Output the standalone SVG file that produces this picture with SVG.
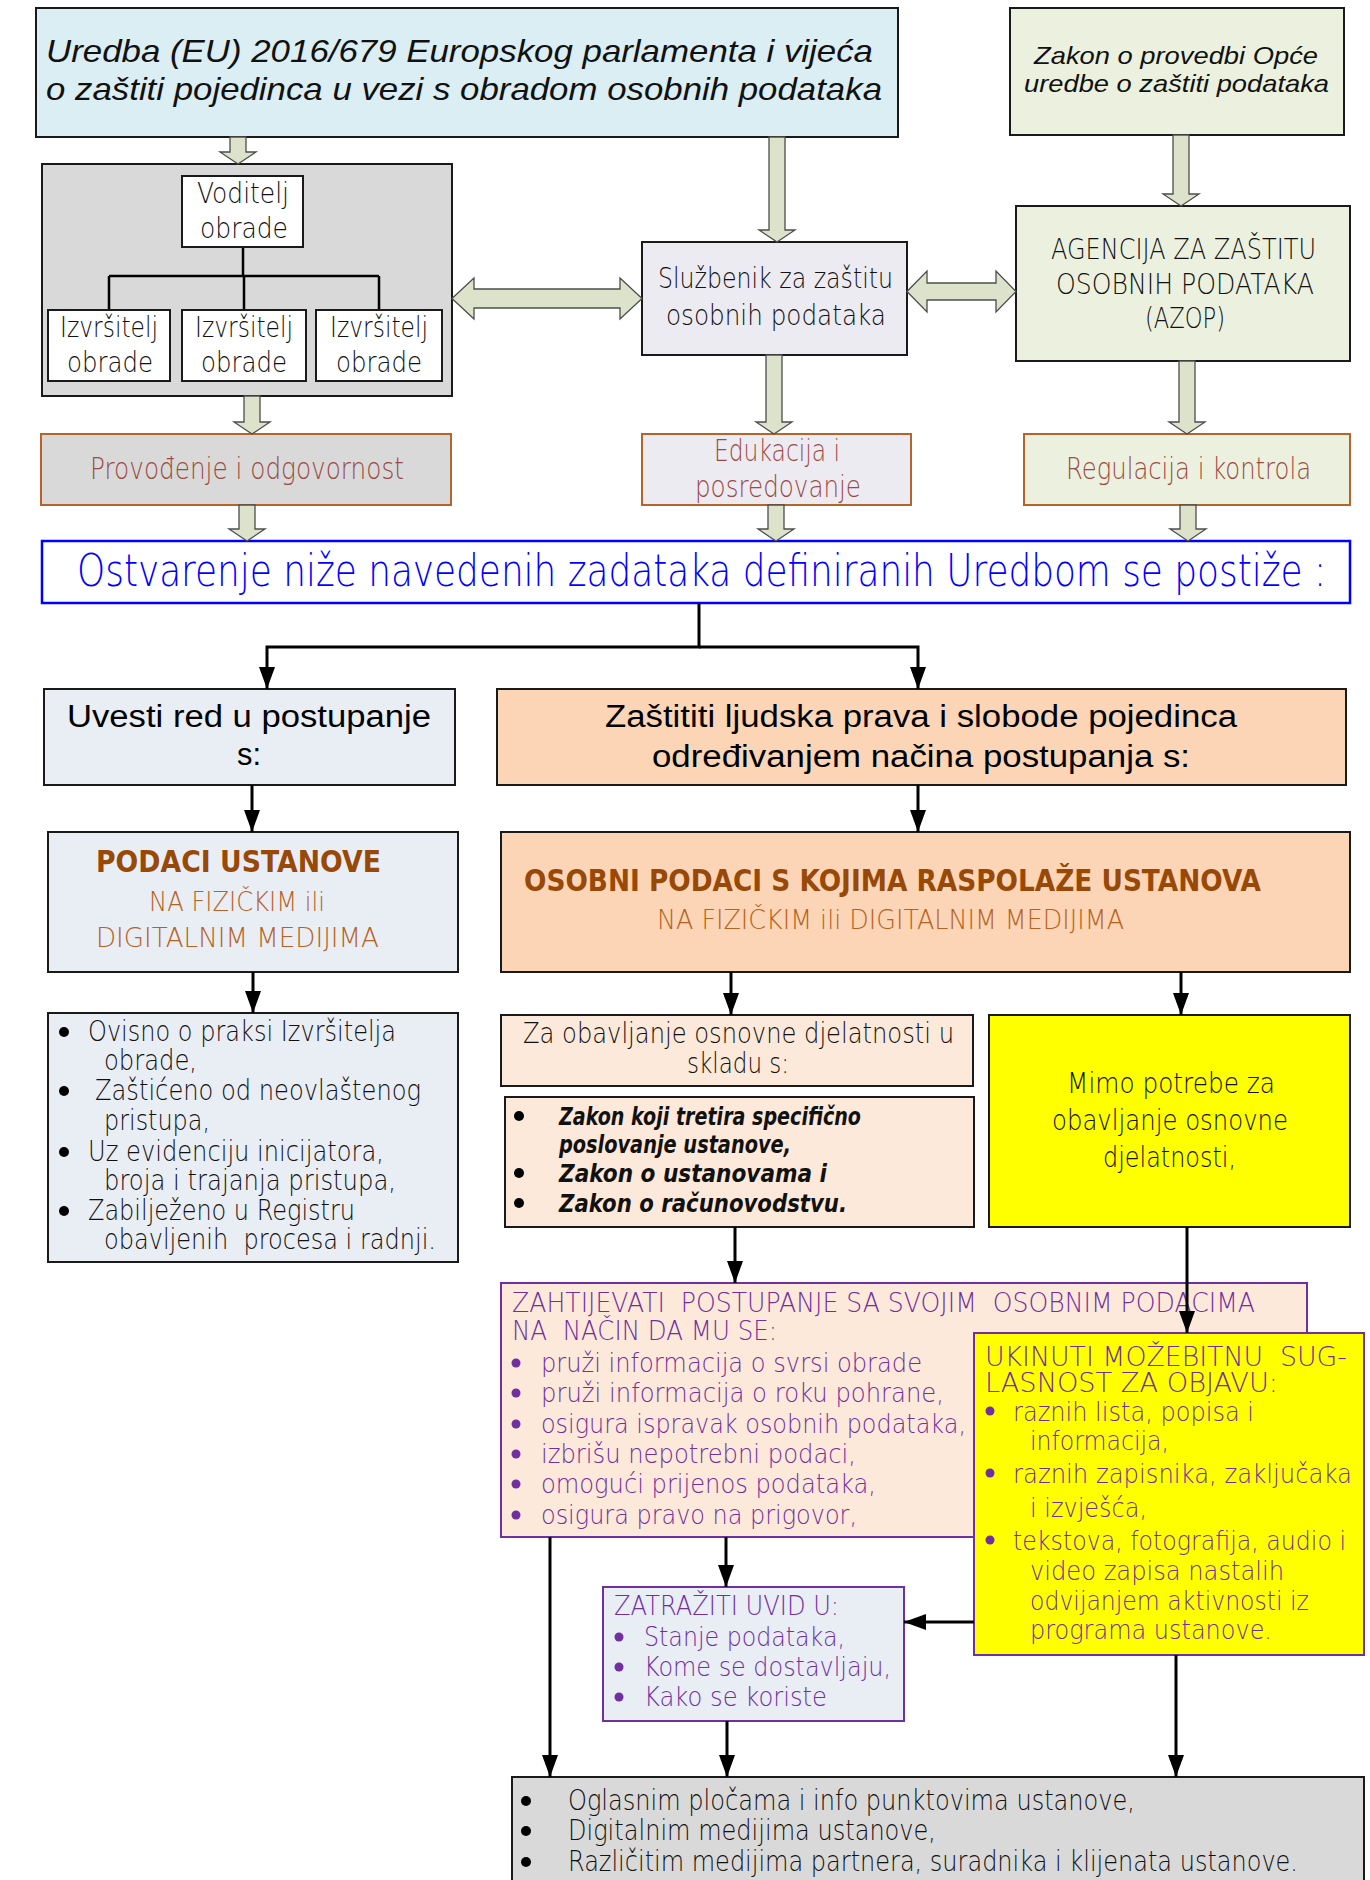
<svg xmlns="http://www.w3.org/2000/svg" width="1370" height="1880" viewBox="0 0 1370 1880">
<style>
.box{stroke:#1a1a1a;stroke-width:2}
.bbox{stroke:#b5652a;stroke-width:2}
.pbox{stroke:#7030a0;stroke-width:2}
.blk{fill:#dde3cb;stroke:#4d4d4d;stroke-width:1.3}
.con{fill:none;stroke:#000;stroke-width:3}
.tree{fill:none;stroke:#000;stroke-width:2.5}
text{font-family:"DejaVu Sans","Open Sans",sans-serif;font-weight:200}
.c{text-anchor:middle}
.lt{font-size:28px;fill:#111}
.it{font-family:"Liberation Sans",Arial,sans-serif;font-style:italic;font-weight:400;fill:#111}
.ar{font-family:"Liberation Sans",Arial,sans-serif;font-weight:400}
.br{fill:#9c4a44;font-size:30px}
.bold{font-weight:700;fill:#984807;font-size:30px}
.org{fill:#b5631f;font-size:27px}
.pu{fill:#7030a0;font-size:26px}
.bi{font-weight:700;font-style:italic;font-size:25px;fill:#111}
</style>
<defs>
<marker id="ah" markerUnits="userSpaceOnUse" viewBox="0 0 22 16" markerWidth="22" markerHeight="16" refX="22" refY="8" orient="auto">
<path d="M0,0 L22,8 L0,16 Z" fill="#000"/>
</marker>
</defs>
<rect width="1370" height="1880" fill="#fff"/>

<g id="uredba">
<rect class="box" x="36" y="8" width="862" height="129" fill="#daeef3"/>
<text class="it" font-size="32" x="46" y="62" textLength="827" lengthAdjust="spacingAndGlyphs">Uredba (EU) 2016/679 Europskog parlamenta i vijeća</text>
<text class="it" font-size="32" x="46" y="100" textLength="836" lengthAdjust="spacingAndGlyphs">o zaštiti pojedinca u vezi s obradom osobnih podataka</text>
</g>

<g id="zakon-provedba">
<rect class="box" x="1010" y="8" width="334" height="127" fill="#ebf1de"/>
<text class="it c" font-size="24" x="1176" y="64" textLength="284" lengthAdjust="spacingAndGlyphs">Zakon o provedbi Opće</text>
<text class="it c" font-size="24" x="1176.5" y="92" textLength="305" lengthAdjust="spacingAndGlyphs">uredbe o zaštiti podataka</text>
</g>

<g id="obrada">
<rect class="box" x="42" y="164" width="410" height="232" fill="#d9d9d9"/>
<path class="tree" d="M243,247 V276 M109,276 H379 M109,276 V310 M244,276 V310 M379,276 V310"/>
<g id="voditelj">
<rect class="box" x="182" y="176" width="121" height="71" fill="#fff"/>
<text class="lt c" x="243" y="203" textLength="92" lengthAdjust="spacingAndGlyphs">Voditelj</text>
<text class="lt c" x="244" y="238" textLength="88" lengthAdjust="spacingAndGlyphs">obrade</text>
</g>
<g id="izvrsitelj1">
<rect class="box" x="48" y="310" width="122" height="71" fill="#fff"/>
<text class="lt c" x="109" y="337" textLength="98" lengthAdjust="spacingAndGlyphs">Izvršitelj</text>
<text class="lt c" x="110" y="372" textLength="86" lengthAdjust="spacingAndGlyphs">obrade</text>
</g>
<g id="izvrsitelj2">
<rect class="box" x="182" y="310" width="124" height="71" fill="#fff"/>
<text class="lt c" x="244" y="337" textLength="98" lengthAdjust="spacingAndGlyphs">Izvršitelj</text>
<text class="lt c" x="244" y="372" textLength="86" lengthAdjust="spacingAndGlyphs">obrade</text>
</g>
<g id="izvrsitelj3">
<rect class="box" x="316" y="310" width="126" height="71" fill="#fff"/>
<text class="lt c" x="379" y="337" textLength="98" lengthAdjust="spacingAndGlyphs">Izvršitelj</text>
<text class="lt c" x="379" y="372" textLength="86" lengthAdjust="spacingAndGlyphs">obrade</text>
</g>
</g>

<g id="sluzbenik">
<rect class="box" x="642" y="242" width="265" height="113" fill="#edebf2"/>
<text class="lt c" x="775.5" y="288" textLength="235" lengthAdjust="spacingAndGlyphs">Službenik za zaštitu</text>
<text class="lt c" x="776" y="325" textLength="220" lengthAdjust="spacingAndGlyphs">osobnih podataka</text>
</g>

<g id="azop">
<rect class="box" x="1016" y="206" width="334" height="155" fill="#ebf1de"/>
<text class="lt c" x="1183.5" y="259" textLength="265" lengthAdjust="spacingAndGlyphs">AGENCIJA ZA ZAŠTITU</text>
<text class="lt c" x="1185" y="294" textLength="258" lengthAdjust="spacingAndGlyphs">OSOBNIH PODATAKA</text>
<text class="lt c" x="1185" y="328" textLength="80" lengthAdjust="spacingAndGlyphs">(AZOP)</text>
</g>

<g id="provodenje">
<rect class="bbox" x="41" y="434" width="410" height="71" fill="#d9d9d9"/>
<text class="br c" x="247" y="479" textLength="314" lengthAdjust="spacingAndGlyphs">Provođenje i odgovornost</text>
</g>
<g id="edukacija">
<rect class="bbox" x="642" y="434" width="269" height="71" fill="#edebf2"/>
<text class="br c" x="777" y="461" textLength="126" lengthAdjust="spacingAndGlyphs">Edukacija i</text>
<text class="br c" x="778" y="497" textLength="166" lengthAdjust="spacingAndGlyphs">posredovanje</text>
</g>
<g id="regulacija">
<rect class="bbox" x="1024" y="434" width="326" height="71" fill="#ebf1de"/>
<text class="br c" x="1188.5" y="479" textLength="245" lengthAdjust="spacingAndGlyphs">Regulacija i kontrola</text>
</g>

<g id="ostvarenje">
<rect x="42" y="541" width="1308" height="62" fill="#fff" stroke="#0000ff" stroke-width="2.5"/>
<text class="c" x="701.5" y="586" font-size="45" fill="#0000ff" textLength="1249" lengthAdjust="spacingAndGlyphs">Ostvarenje niže navedenih zadataka definiranih Uredbom se postiže :</text>
</g>

<g id="uvesti">
<rect class="box" x="44" y="689" width="411" height="96" fill="#e9edf4"/>
<text class="ar c" font-size="31" fill="#000" x="249" y="727" textLength="364" lengthAdjust="spacingAndGlyphs">Uvesti red u postupanje</text>
<text class="ar c" font-size="31" fill="#000" x="249" y="765" textLength="24" lengthAdjust="spacingAndGlyphs">s:</text>
</g>
<g id="zastititi">
<rect class="box" x="497" y="689" width="849" height="96" fill="#fbd5b5"/>
<text class="ar c" font-size="31" fill="#000" x="921" y="727" textLength="632" lengthAdjust="spacingAndGlyphs">Zaštititi ljudska prava i slobode pojedinca</text>
<text class="ar c" font-size="31" fill="#000" x="921" y="767" textLength="538" lengthAdjust="spacingAndGlyphs">određivanjem načina postupanja s:</text>
</g>

<g id="podaci-ustanove">
<rect class="box" x="48" y="832" width="410" height="140" fill="#e9edf4"/>
<text class="bold c" x="238.5" y="872" textLength="285" lengthAdjust="spacingAndGlyphs">PODACI USTANOVE</text>
<text class="org c" x="237" y="911" textLength="176" lengthAdjust="spacingAndGlyphs">NA FIZIČKIM ili</text>
<text class="org c" x="237.5" y="947" textLength="283" lengthAdjust="spacingAndGlyphs">DIGITALNIM MEDIJIMA</text>
</g>
<g id="osobni-podaci">
<rect class="box" x="501" y="832" width="849" height="140" fill="#fbd5b5"/>
<text class="bold c" x="892.5" y="891" textLength="737" lengthAdjust="spacingAndGlyphs">OSOBNI PODACI S KOJIMA RASPOLAŽE USTANOVA</text>
<text class="org c" x="890.5" y="929" textLength="467" lengthAdjust="spacingAndGlyphs">NA FIZIČKIM ili DIGITALNIM MEDIJIMA</text>
</g>

<g id="nacin-ustanove">
<rect class="box" x="48" y="1013" width="410" height="249" fill="#e9edf4"/>
<g fill="#000"><circle cx="64" cy="1032" r="5"/><circle cx="64" cy="1091" r="5"/><circle cx="64" cy="1152" r="5"/><circle cx="64" cy="1211" r="5"/></g>
<text class="lt" font-size="26" x="88" y="1041" textLength="308" lengthAdjust="spacingAndGlyphs">Ovisno o praksi Izvršitelja</text>
<text class="lt" font-size="26" x="104" y="1070" textLength="93" lengthAdjust="spacingAndGlyphs">obrade,</text>
<text class="lt" font-size="26" x="95" y="1100" textLength="326" lengthAdjust="spacingAndGlyphs">Zaštićeno od neovlaštenog</text>
<text class="lt" font-size="26" x="104" y="1130" textLength="106" lengthAdjust="spacingAndGlyphs">pristupa,</text>
<text class="lt" font-size="26" x="88" y="1161" textLength="296" lengthAdjust="spacingAndGlyphs">Uz evidenciju inicijatora,</text>
<text class="lt" font-size="26" x="104" y="1190" textLength="292" lengthAdjust="spacingAndGlyphs">broja i trajanja pristupa,</text>
<text class="lt" font-size="26" x="88" y="1220" textLength="267" lengthAdjust="spacingAndGlyphs">Zabilježeno u Registru</text>
<text class="lt" font-size="26" x="104" y="1249" textLength="332" lengthAdjust="spacingAndGlyphs" xml:space="preserve">obavljenih  procesa i radnji.</text>
</g>

<g id="za-obavljanje">
<rect class="box" x="501" y="1015" width="472" height="71" fill="#fde9d9"/>
<text class="lt c" font-size="26" x="738.5" y="1043" textLength="431" lengthAdjust="spacingAndGlyphs">Za obavljanje osnovne djelatnosti u</text>
<text class="lt c" font-size="26" x="738" y="1073" textLength="102" lengthAdjust="spacingAndGlyphs">skladu s:</text>
</g>

<g id="zakoni">
<rect class="box" x="505" y="1097" width="469" height="130" fill="#fde9d9"/>
<g fill="#000"><circle cx="519" cy="1116" r="5"/><circle cx="519" cy="1173" r="5"/><circle cx="519" cy="1203" r="5"/></g>
<text class="bi" x="559" y="1125" textLength="302" lengthAdjust="spacingAndGlyphs">Zakon koji tretira specifično</text>
<text class="bi" x="559" y="1153" textLength="232" lengthAdjust="spacingAndGlyphs">poslovanje ustanove,</text>
<text class="bi" x="559" y="1182" textLength="268" lengthAdjust="spacingAndGlyphs">Zakon o ustanovama i</text>
<text class="bi" x="559" y="1212" textLength="288" lengthAdjust="spacingAndGlyphs">Zakon o računovodstvu.</text>
</g>

<g id="mimo">
<rect class="box" x="989" y="1015" width="361" height="212" fill="#ffff00"/>
<text class="lt c" font-size="27" x="1171" y="1093" textLength="208" lengthAdjust="spacingAndGlyphs">Mimo potrebe za</text>
<text class="lt c" font-size="27" x="1170" y="1130" textLength="236" lengthAdjust="spacingAndGlyphs">obavljanje osnovne</text>
<text class="lt c" font-size="27" x="1169.5" y="1167" textLength="133" lengthAdjust="spacingAndGlyphs">djelatnosti,</text>
</g>

<g id="zahtijevati">
<rect class="pbox" x="501" y="1283" width="806" height="254" fill="#fde9d9"/>
<text class="pu" x="512" y="1312" textLength="743" lengthAdjust="spacingAndGlyphs" xml:space="preserve">ZAHTIJEVATI  POSTUPANJE SA SVOJIM  OSOBNIM PODACIMA</text>
<text class="pu" x="512" y="1340" textLength="265" lengthAdjust="spacingAndGlyphs" xml:space="preserve">NA  NAČIN DA MU SE:</text>
<g fill="#7030a0"><circle cx="516" cy="1363" r="4.5"/><circle cx="516" cy="1393" r="4.5"/><circle cx="516" cy="1424" r="4.5"/><circle cx="516" cy="1454" r="4.5"/><circle cx="516" cy="1484" r="4.5"/><circle cx="516" cy="1515" r="4.5"/></g>
<text class="pu" x="541" y="1372" textLength="381" lengthAdjust="spacingAndGlyphs">pruži informacija o svrsi obrade</text>
<text class="pu" x="541" y="1402" textLength="403" lengthAdjust="spacingAndGlyphs">pruži informacija o roku pohrane,</text>
<text class="pu" x="541" y="1433" textLength="425" lengthAdjust="spacingAndGlyphs">osigura ispravak osobnih podataka,</text>
<text class="pu" x="541" y="1463" textLength="315" lengthAdjust="spacingAndGlyphs">izbrišu nepotrebni podaci,</text>
<text class="pu" x="541" y="1493" textLength="335" lengthAdjust="spacingAndGlyphs">omogući prijenos podataka,</text>
<text class="pu" x="541" y="1524" textLength="316" lengthAdjust="spacingAndGlyphs">osigura pravo na prigovor,</text>
</g>

<g id="ukinuti">
<rect class="pbox" x="974" y="1333" width="390" height="322" fill="#ffff00"/>
<g class="ar" font-size="26" fill="#7030a0">
<text x="985" y="1366" textLength="362" lengthAdjust="spacingAndGlyphs" xml:space="preserve">UKINUTI MOŽEBITNU  SUG-</text>
<text x="985" y="1392" textLength="293" lengthAdjust="spacingAndGlyphs">LASNOST ZA OBJAVU:</text>
<text x="1013" y="1421" textLength="241" lengthAdjust="spacingAndGlyphs">raznih lista, popisa i</text>
<text x="1030" y="1450" textLength="139" lengthAdjust="spacingAndGlyphs">informacija,</text>
<text x="1013" y="1483" textLength="339" lengthAdjust="spacingAndGlyphs">raznih zapisnika, zaključaka</text>
<text x="1030" y="1517" textLength="117" lengthAdjust="spacingAndGlyphs">i izvješća,</text>
<text x="1013" y="1550" textLength="333" lengthAdjust="spacingAndGlyphs">tekstova, fotografija, audio i</text>
<text x="1030" y="1580" textLength="254" lengthAdjust="spacingAndGlyphs">video zapisa nastalih</text>
<text x="1030" y="1610" textLength="279" lengthAdjust="spacingAndGlyphs">odvijanjem aktivnosti iz</text>
<text x="1030" y="1639" textLength="242" lengthAdjust="spacingAndGlyphs">programa ustanove.</text>
</g>
<g fill="#7030a0"><circle cx="990" cy="1411" r="4.5"/><circle cx="990" cy="1473" r="4.5"/><circle cx="990" cy="1540" r="4.5"/></g>
</g>

<g id="zatraziti">
<rect class="pbox" x="603" y="1587" width="301" height="134" fill="#e9edf4"/>
<text class="pu" font-size="27" x="614" y="1615" textLength="225" lengthAdjust="spacingAndGlyphs">ZATRAŽITI UVID U:</text>
<g fill="#7030a0"><circle cx="619" cy="1637" r="4.5"/><circle cx="619" cy="1667" r="4.5"/><circle cx="619" cy="1697" r="4.5"/></g>
<text class="pu" font-size="27" x="644" y="1646" textLength="201" lengthAdjust="spacingAndGlyphs">Stanje podataka,</text>
<text class="pu" font-size="27" x="644" y="1676" textLength="247" lengthAdjust="spacingAndGlyphs">Kome se dostavljaju,</text>
<text class="pu" font-size="27" x="644" y="1706" textLength="183" lengthAdjust="spacingAndGlyphs">Kako se koriste</text>
</g>

<g id="objava">
<rect class="box" x="512" y="1777" width="852" height="120" fill="#d9d9d9"/>
<g fill="#000"><circle cx="526" cy="1801" r="5"/><circle cx="526" cy="1831" r="5"/><circle cx="526" cy="1862" r="5"/></g>
<text class="lt" font-size="27" x="568" y="1810" textLength="567" lengthAdjust="spacingAndGlyphs">Oglasnim pločama i info punktovima ustanove,</text>
<text class="lt" font-size="27" x="568" y="1840" textLength="368" lengthAdjust="spacingAndGlyphs">Digitalnim medijima ustanove,</text>
<text class="lt" font-size="27" x="568" y="1871" textLength="730" lengthAdjust="spacingAndGlyphs">Različitim medijima partnera, suradnika i klijenata ustanove.</text>
</g>

<g id="connectors">
<path class="blk" d="M230,137 H246 V152 H256 L238,164 L220,152 H230 Z"/>
<path class="blk" d="M769,137 H785 V230 H795 L777,242 L759,230 H769 Z"/>
<path class="blk" d="M1173,135 H1189 V194 H1199 L1181,206 L1163,194 H1173 Z"/>
<path class="blk" d="M244,396 H260 V422 H270 L252,434 L234,422 H244 Z"/>
<path class="blk" d="M766,355 H782 V422 H792 L774,434 L756,422 H766 Z"/>
<path class="blk" d="M1179,361 H1195 V422 H1205 L1187,434 L1169,422 H1179 Z"/>
<path class="blk" d="M239,505 H255 V529 H265 L247,541 L229,529 H239 Z"/>
<path class="blk" d="M768,505 H784 V529 H794 L776,541 L758,529 H768 Z"/>
<path class="blk" d="M1180,505 H1196 V529 H1206 L1188,541 L1170,529 H1180 Z"/>
<path class="blk" d="M452,298.5 L474,278 V289 H620 V278 L642,298.5 L620,319 V308 H474 V319 Z"/>
<path class="blk" d="M907,291.5 L927,271 V283 H996 V271 L1016,291.5 L996,312 V300 H927 V312 Z"/>
<path class="con" d="M699,603 V647 H267 V689" marker-end="url(#ah)"/>
<path class="con" d="M699,647 H918 V689" marker-end="url(#ah)"/>
<path class="con" d="M252,785 V832" marker-end="url(#ah)"/>
<path class="con" d="M918,785 V832" marker-end="url(#ah)"/>
<path class="con" d="M253,972 V1013" marker-end="url(#ah)"/>
<path class="con" d="M731,972 V1015" marker-end="url(#ah)"/>
<path class="con" d="M1181,972 V1015" marker-end="url(#ah)"/>
<path class="con" d="M735,1227 V1283" marker-end="url(#ah)"/>
<path class="con" d="M1187,1227 V1333" marker-end="url(#ah)"/>
<path class="con" d="M726,1537 V1587" marker-end="url(#ah)"/>
<path class="con" d="M974,1622 H904" marker-end="url(#ah)"/>
<path class="con" d="M550,1537 V1777" marker-end="url(#ah)"/>
<path class="con" d="M727,1721 V1777" marker-end="url(#ah)"/>
<path class="con" d="M1176,1655 V1777" marker-end="url(#ah)"/>
</g>
</svg>
